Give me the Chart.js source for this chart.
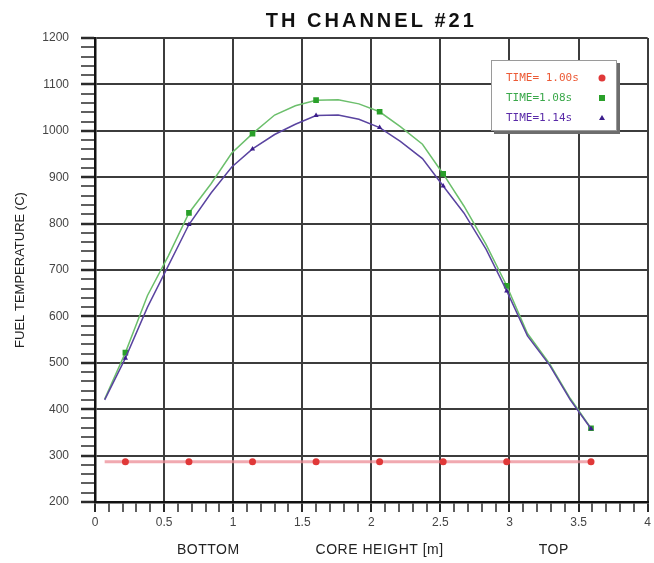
<!DOCTYPE html>
<html>
<head>
<meta charset="utf-8">
<script src="https://cdn.jsdelivr.net/npm/chart.js@4"></script>
<style>
  html, body { margin: 0; padding: 0; background: #fff; }
  #wrap { width: 654px; height: 563px; }
</style>
</head>
<body>
<div id="wrap"><canvas id="chart" width="654" height="563"></canvas></div>
<script>
// core height nodes [m] and fuel temperatures [C]
const heights = [0.07, 0.22, 0.38, 0.53, 0.68, 0.84, 0.99, 1.14, 1.30, 1.45, 1.60, 1.76,
                 1.91, 2.06, 2.21, 2.37, 2.52, 2.67, 2.83, 2.98, 3.13, 3.29, 3.44, 3.59];
const temp100 = [287, 287, 287, 287, 287, 287, 287, 287, 287, 287, 287, 287,
                 287, 287, 287, 287, 287, 287, 287, 287, 287, 287, 287, 287];
const temp108 = [422, 522, 645, 730, 823, 886, 952, 994, 1034, 1054, 1066, 1067,
                 1058, 1041, 1009, 971, 907, 838, 755, 666, 563, 498, 423, 359];
const temp114 = [420, 510, 620, 709, 798, 866, 922, 961, 992, 1014, 1033, 1034,
                 1025, 1007, 977, 940, 881, 823, 745, 655, 558, 495, 420, 358];
const seriesLabels = ['TIME= 1.00s', 'TIME=1.08s', 'TIME=1.14s'];
const markedNodes = [1, 4, 7, 10, 13, 16, 19, 23];

const chartTitle = 'TH CHANNEL #21';
const yTitle = 'FUEL TEMPERATURE (C)';
const bottomTexts = ['BOTTOM', 'CORE HEIGHT [m]', 'TOP'];

function toPoints(vals) {
  return heights.map((h, i) => ({ x: h, y: vals[i] }));
}
const markerSize = r => ctx => markedNodes.includes(ctx.dataIndex) ? r : 0;

const isMajor = (v, step) => Math.abs(v / step - Math.round(v / step)) < 1e-6;

// title, bottom captions and the boxed legend
const decorations = {
  id: 'decorations',
  afterDraw(chart) {
    const { ctx, chartArea, scales } = chart;
    ctx.save();
    ctx.fillStyle = '#111';
    ctx.font = 'bold 20px "Liberation Sans", Arial, sans-serif';
    ctx.letterSpacing = '3px';
    ctx.textAlign = 'center';
    ctx.textBaseline = 'middle';
    ctx.fillText(chartTitle, (chartArea.left + chartArea.right) / 2, 21);
    ctx.letterSpacing = '0.5px';

    ctx.font = '14px "Liberation Sans", Arial, sans-serif';
    ctx.fillStyle = '#222';
    const spots = [0.82, 2.06, 3.32];
    bottomTexts.forEach((t, i) => {
      ctx.fillText(t, scales.x.getPixelForValue(spots[i]), 550);
    });

    // legend box
    const bx = 491, by = 60, bw = 126, bh = 71;
    ctx.fillStyle = '#6d6d6d';
    ctx.fillRect(bx + 3, by + 3, bw, bh);
    ctx.fillStyle = '#fff';
    ctx.fillRect(bx, by, bw, bh);
    ctx.strokeStyle = '#9a9a9a';
    ctx.lineWidth = 1;
    ctx.strokeRect(bx + 0.5, by + 0.5, bw - 1, bh - 1);

    ctx.letterSpacing = '0px';
    ctx.font = '11px "DejaVu Sans Mono", "Liberation Mono", monospace';
    ctx.textAlign = 'left';
    chart.data.datasets.forEach((ds, i) => {
      const y = by + 18 + i * 20;
      ctx.fillStyle = ds.textColor;
      ctx.fillText(ds.label, bx + 15, y);
      ctx.fillStyle = ds.pointBackgroundColor;
      const mx = bx + 111;
      if (i === 0) {
        ctx.beginPath(); ctx.arc(mx, y, 3.5, 0, Math.PI * 2); ctx.fill();
      } else if (i === 1) {
        ctx.fillRect(mx - 3, y - 3, 6, 6);
      } else {
        ctx.beginPath();
        ctx.moveTo(mx, y - 3); ctx.lineTo(mx + 3, y + 2); ctx.lineTo(mx - 3, y + 2);
        ctx.closePath(); ctx.fill();
      }
    });
    ctx.restore();
  }
};

new Chart(document.getElementById('chart'), {
  type: 'line',
  data: {
    datasets: [
      {
        label: seriesLabels[0],
        data: toPoints(temp100),
        borderColor: 'rgba(236, 140, 150, 0.75)',
        borderWidth: 3,
        pointStyle: 'circle',
        pointRadius: markerSize(3.5),
        pointBackgroundColor: '#e03838',
        pointBorderColor: '#e03838',
        pointBorderWidth: 0,
        textColor: '#ec5a36',
        order: 3
      },
      {
        label: seriesLabels[1],
        data: toPoints(temp108),
        borderColor: '#6cbf6c',
        borderWidth: 1.5,
        pointStyle: 'rect',
        pointRadius: markerSize(4),
        pointBackgroundColor: '#2aa02a',
        pointBorderColor: '#2aa02a',
        pointBorderWidth: 0,
        textColor: '#3aa84a',
        order: 2
      },
      {
        label: seriesLabels[2],
        data: toPoints(temp114),
        borderColor: '#5a44a0',
        borderWidth: 1.5,
        pointStyle: 'triangle',
        pointRadius: markerSize(3),
        pointBackgroundColor: '#3c1e8c',
        pointBorderColor: '#3c1e8c',
        pointBorderWidth: 0,
        textColor: '#5a2aa8',
        order: 1
      }
    ]
  },
  options: {
    responsive: false,
    animation: false,
    layout: { padding: { top: 38, right: 3, left: 0, bottom: 0 } },
    plugins: {
      legend: { display: false },
      tooltip: { enabled: false }
    },
    scales: {
      x: {
        type: 'linear',
        min: 0,
        max: 4,
        afterFit: s => { s.height = 61; },
        ticks: {
          stepSize: 0.1,
          autoSkip: false,
          maxRotation: 0,
          maxTicksLimit: 100,
          padding: 3,
          color: '#444',
          font: { family: '"Liberation Sans", Arial, sans-serif', size: 12 },
          callback: v => isMajor(v, 0.5) ? String(Math.round(v * 10) / 10) : ''
        },
        grid: {
          tickLength: 10,
          color: c => isMajor(c.tick.value, 0.5) ? '#3c3c3c' : 'rgba(0,0,0,0)',
          lineWidth: c => isMajor(c.tick.value, 0.5) ? 2 : 0,
          tickColor: '#2a2a2a',
          tickWidth: c => isMajor(c.tick.value, 0.5) ? 2 : 1.5
        },
        border: { color: '#111', width: 2.5 }
      },
      y: {
        min: 200,
        max: 1200,
        afterFit: s => { s.width = 95; },
        title: {
          display: true,
          text: yTitle,
          color: '#222',
          padding: { top: 13, bottom: 0 },
          font: { family: '"Liberation Sans", Arial, sans-serif', size: 13 }
        },
        ticks: {
          stepSize: 20,
          autoSkip: false,
          maxTicksLimit: 100,
          padding: 12,
          color: '#444',
          font: { family: '"Liberation Sans", Arial, sans-serif', size: 12 },
          callback: v => isMajor(v, 100) ? String(v) : ''
        },
        grid: {
          tickLength: 14,
          color: c => isMajor(c.tick.value, 100) ? '#3c3c3c' : 'rgba(0,0,0,0)',
          lineWidth: c => isMajor(c.tick.value, 100) ? 2 : 0,
          tickColor: '#2a2a2a',
          tickWidth: c => isMajor(c.tick.value, 100) ? 2.5 : 1.5
        },
        border: { color: '#111', width: 2.5 }
      }
    }
  },
  plugins: [decorations]
});
</script>
</body>
</html>
